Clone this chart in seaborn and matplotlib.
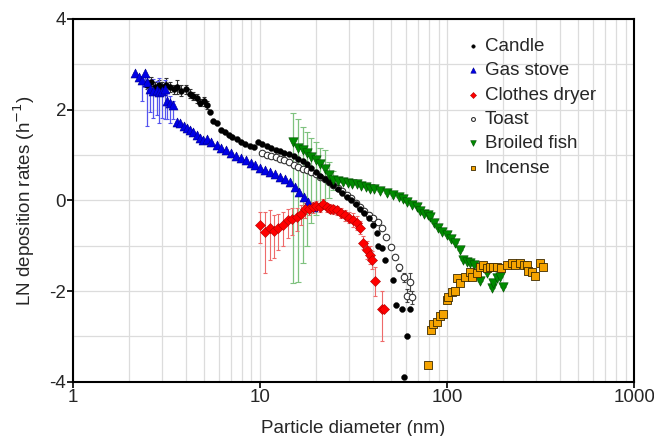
import numpy as np
import pandas as pd
import matplotlib
matplotlib.use("Agg")
import matplotlib.pyplot as plt
from matplotlib.ticker import FixedLocator, NullFormatter, LogLocator
import seaborn as sns

# ---- data: particle diameter (nm) and LN deposition rate (h^-1) ----
candle_x = [2.5, 2.6, 2.75, 2.9, 3.0, 3.15, 3.3, 3.45, 3.6, 3.8, 4.0, 4.2, 4.4, 4.6,
            4.8, 5.0, 5.2, 5.4, 5.6, 5.9, 6.2, 6.5, 6.8, 7.1, 7.5, 7.9, 8.3, 8.8,
            9.3, 9.8, 10.3, 10.9, 11.5, 12.1, 12.8, 13.5, 14.3, 15.1, 16.0, 16.9,
            17.8, 18.8, 19.9, 21.0, 22.2, 23.4, 24.7, 26.1, 27.6, 29.1, 30.7, 32.4,
            34.2, 36.1, 38.1, 40.2, 42.0, 42.5, 44.8, 46.5, 51.5, 53.5, 57.5, 59.0,
            61.0, 63.0]
candle_y = [2.55, 2.62, 2.5, 2.55, 2.5, 2.55, 2.5, 2.45, 2.5, 2.42, 2.45, 2.35, 2.3, 2.25,
            2.15, 2.18, 2.1, 1.95, 1.75, 1.7, 1.55, 1.5, 1.45, 1.4, 1.35, 1.28, 1.25, 1.2,
            1.18, 1.28, 1.25, 1.2, 1.15, 1.12, 1.08, 1.05, 1.02, 0.98, 0.92, 0.86,
            0.8, 0.72, 0.63, 0.54, 0.47, 0.4, 0.33, 0.24, 0.16, 0.08, 0.0, -0.08,
            -0.18, -0.28, -0.4, -0.55, -0.72, -1.0, -1.05, -1.32, -1.75, -2.3, -2.4, -3.9,
            -3.0, -2.4]
candle_err = [0.1, 0.1, 0.12, 0.1, 0.12, 0.15, 0.12, 0.1, 0.15, 0.12, 0.1, 0.1, 0.08, 0.1,
              0.08, 0.1, 0.08] + [0.0] * 49

gas_x = [2.14, 2.25, 2.35, 2.43, 2.5, 2.58, 2.68, 2.8, 2.9, 3.0, 3.1, 3.2, 3.3, 3.43,
         3.6, 3.75, 3.9, 4.05, 4.2, 4.4, 4.6, 4.8, 4.95, 5.2, 5.5, 5.9, 6.2, 6.6, 7.0,
         7.4, 7.9, 8.4, 8.9, 9.4, 10.0, 10.6, 11.3, 12.0, 12.8, 13.6, 14.5, 15.3,
         16.2, 17.1, 18.1, 19.2]
gas_y = [2.8, 2.72, 2.65, 2.8, 2.6, 2.45, 2.42, 2.43, 2.4, 2.42, 2.45, 2.2, 2.15, 2.1,
         1.72, 1.7, 1.65, 1.6, 1.55, 1.5, 1.45, 1.38, 1.32, 1.35, 1.28, 1.21, 1.15, 1.1,
         1.05, 0.98, 0.93, 0.88, 0.82, 0.78, 0.72, 0.68, 0.62, 0.58, 0.52, 0.46, 0.4,
         0.3, 0.18, 0.08, -0.03, -0.15]
gas_err_lo = [0.0, 0.0, 0.45, 0.3, 0.95, 0.5, 0.6, 0.55, 0.7, 0.6, 0.65, 0.4, 0.45, 0.3] + [0.0] * 32
gas_err_hi = [0.0, 0.0, 0.1, 0.0, 0.15, 0.2, 0.25, 0.2, 0.3, 0.15, 0.2, 0.2, 0.15, 0.1] + [0.0] * 32

dryer_x = [10.0, 10.6, 11.3, 11.9, 12.5, 13.3, 14.1, 14.9, 15.8, 16.6, 17.4, 18.3, 19.2,
           20.0, 20.9, 21.7, 22.7, 23.7, 24.7, 25.8, 27.0, 28.5, 30.0, 31.4, 32.8,
           34.2, 35.5, 37.3, 38.5, 39.7, 41.2, 44.8, 46.0]
dryer_y = [-0.55, -0.7, -0.62, -0.68, -0.6, -0.55, -0.44, -0.42, -0.37, -0.3, -0.2, -0.18,
           -0.15, -0.12, -0.15, -0.08, -0.15, -0.18, -0.2, -0.22, -0.28, -0.33, -0.38,
           -0.44, -0.5, -0.6, -0.93, -1.1, -1.2, -1.32, -1.77, -2.4, -2.4]
dryer_err_lo = [0.4, 0.9, 0.7, 0.6, 0.5, 0.45, 0.4, 0.35, 0.3, 0.25, 0.2, 0.15, 0.12,
                0.1, 0.1, 0.1, 0.1, 0.1, 0.1, 0.1, 0.12, 0.12, 0.12, 0.15, 0.15,
                0.15, 0.15, 0.2, 0.2, 0.2, 0.35, 0.7, 0.0]
dryer_err_hi = [0.3, 0.45, 0.4, 0.35, 0.3, 0.3, 0.25, 0.25, 0.2, 0.2, 0.15, 0.12, 0.12,
                0.1, 0.1, 0.1, 0.1, 0.1, 0.1, 0.1, 0.12, 0.12, 0.12, 0.15, 0.15,
                0.15, 0.15, 0.2, 0.2, 0.2, 0.3, 0.4, 0.0]

toast_x = [10.3, 10.9, 11.5, 12.1, 12.8, 13.5, 14.3, 15.1, 16.0, 16.9, 17.8, 18.8, 19.9,
           21.0, 22.2, 23.4, 24.7, 26.1, 27.6, 29.1, 30.7, 32.4, 34.2, 36.1, 38.1,
           40.2, 42.5, 44.8, 47.3, 49.9, 52.7, 55.6, 58.7, 63.0, 61.0, 65.0]
toast_y = [1.05, 1.0, 0.98, 0.95, 0.92, 0.88, 0.84, 0.78, 0.73, 0.7, 0.66, 0.62, 0.58,
           0.52, 0.46, 0.4, 0.34, 0.27, 0.2, 0.12, 0.05, -0.05, -0.14, -0.24, -0.32,
           -0.4, -0.47, -0.62, -0.8, -1.04, -1.26, -1.48, -1.7, -1.81, -2.1, -2.14]
toast_err = [0.0] * 31 + [0.08, 0.1, 0.2, 0.15, 0.15]

fish_x = [15.0, 16.0, 16.9, 17.8, 18.8, 19.9, 21.0, 22.2, 23.4, 24.6, 26.0, 27.8, 29.5,
          31.2, 33.0, 34.8, 36.7, 38.6, 40.8, 43.9, 47.6, 51.5, 55.0, 58.0, 61.0,
          65.0, 69.0, 71.5, 75.0, 79.0, 81.0, 85.0, 89.4, 94.0, 99.6, 105.0, 110.0,
          117.0, 122.0, 128.0, 133.0, 140.0, 150.0, 163.0, 174.0, 176.0, 184.0,
          192.0, 200.0]
fish_y = [1.28, 1.15, 1.12, 1.04, 0.95, 0.88, 0.8, 0.7, 0.55, 0.44, 0.42, 0.4, 0.38,
          0.37, 0.36, 0.32, 0.3, 0.26, 0.24, 0.2, 0.16, 0.11, 0.07, 0.03, -0.04,
          -0.1, -0.15, -0.24, -0.3, -0.33, -0.37, -0.5, -0.62, -0.7, -0.77, -0.86,
          -0.95, -1.1, -1.32, -1.36, -1.39, -1.42, -1.77, -1.61, -1.94, -1.83, -1.72,
          -1.7, -1.92]
fish_err_lo = [3.1, 2.95, 2.5, 2.05, 1.45, 1.2, 1.0, 0.85, 0.5, 0.22] + [0.0] * 39
fish_err_hi = [0.64, 0.65, 0.5, 0.46, 0.42, 0.4, 0.35, 0.4, 0.3, 0.2] + [0.0] * 39

incense_x = [79.0, 82.0, 84.0, 88.0, 91.6, 95.0, 99.6, 101.5, 106.0, 110.0, 113.0, 117.0,
             125.0, 133.0, 136.0, 144.0, 150.0, 156.0, 163.0, 170.0, 177.0, 184.0,
             195.0, 210.0, 222.0, 230.0, 245.0, 258.0, 267.0, 272.0, 283.0, 295.0,
             313.0, 325.0]
incense_y = [-3.64, -2.87, -2.72, -2.69, -2.54, -2.5, -2.2, -2.14, -2.03, -1.99, -1.72,
             -1.83, -1.7, -1.59, -1.7, -1.61, -1.48, -1.43, -1.5, -1.48, -1.47, -1.48,
             -1.5, -1.43, -1.39, -1.43, -1.39, -1.42, -1.43, -1.55, -1.59, -1.66,
             -1.39, -1.48]

# ---- styling per source ----
sns.set_theme(style="white")
plt.rcParams["font.family"] = ["Liberation Sans", "DejaVu Sans"]

fig = plt.figure(figsize=(6.54, 4.36), dpi=100)
ax = fig.add_axes([0.1116, 0.1245, 0.858, 0.832])

# error bars first so the markers sit on top
ax.errorbar(candle_x, candle_y, yerr=candle_err, fmt="none", ecolor="#333333",
            elinewidth=0.8, capsize=1.5, capthick=0.8, zorder=1)
ax.errorbar(gas_x, gas_y, yerr=[gas_err_lo, gas_err_hi], fmt="none", ecolor="#5555ee",
            elinewidth=0.9, capsize=1.5, capthick=0.8, zorder=1)
ax.errorbar(fish_x, fish_y, yerr=[fish_err_lo, fish_err_hi], fmt="none", ecolor="#7fc27f",
            elinewidth=0.9, capsize=2, capthick=0.8, zorder=1)
ax.errorbar(dryer_x, dryer_y, yerr=[dryer_err_lo, dryer_err_hi], fmt="none", ecolor="#ee6a6a",
            elinewidth=0.8, capsize=1.5, capthick=0.8, zorder=1)
ax.errorbar(toast_x, toast_y, yerr=toast_err, fmt="none", ecolor="#444444",
            elinewidth=0.8, capsize=1.5, capthick=0.8, zorder=1)

series = [
    ("Candle", candle_x, candle_y, dict(marker="o", s=18, color="black", edgecolor="black", linewidth=0.3), 3),
    ("Gas stove", gas_x, gas_y, dict(marker="^", s=42, color="#0000e6", edgecolor="#00008b", linewidth=0.4), 4),
    ("Clothes dryer", dryer_x, dryer_y, dict(marker="D", s=26, color="#ff0000", edgecolor="#b00000", linewidth=0.4), 5),
    ("Toast", toast_x, toast_y, dict(marker="o", s=22, color="white", edgecolor="#333333", linewidth=0.8), 2),
    ("Broiled fish", fish_x, fish_y, dict(marker="v", s=46, color="#008a00", edgecolor="#004d00", linewidth=0.4), 6),
    ("Incense", incense_x, incense_y, dict(marker="s", s=28, color="#f5a300", edgecolor="#3d2a00", linewidth=0.6), 7),
]
for label, xs, ys, style, z in series:
    df = pd.DataFrame({"d": xs, "rate": ys})
    sns.scatterplot(data=df, x="d", y="rate", ax=ax, label=label, zorder=z, **style)

ax.set_xscale("log")
ax.set_xlim(1, 1000)
ax.set_ylim(-4, 4)
ax.set_yticks([-4, -2, 0, 2, 4])
ax.yaxis.set_minor_locator(FixedLocator([-3, -1, 1, 3]))
ax.xaxis.set_minor_locator(LogLocator(base=10, subs=np.arange(2, 10)))
ax.xaxis.set_minor_formatter(NullFormatter())
ax.set_xticks([1, 10, 100, 1000])
ax.set_xticklabels(["1", "10", "100", "1000"])
ax.set_yticklabels(["-4", "-2", "0", "2", "4"])

ax.grid(True, which="both", color="#dcdcdc", linewidth=0.9)
ax.set_axisbelow(True)
ax.tick_params(axis="both", which="major", direction="out", length=4, width=1.2,
               color="black", labelsize=13.5, pad=1, bottom=True, left=True)
ax.tick_params(axis="both", which="minor", length=0)
for sp in ax.spines.values():
    sp.set_color("black")
    sp.set_linewidth(1.5)

ax.set_xlabel("Particle diameter (nm)", fontsize=13.5, labelpad=10)
ax.set_ylabel("LN deposition rates (h$^{-1}$)", fontsize=13.5, labelpad=9)

leg = ax.legend(loc="upper right", bbox_to_anchor=(0.955, 0.985), frameon=False,
                fontsize=13.5, markerscale=0.6, handletextpad=0.1, labelspacing=0.39,
                handlelength=1.0, borderaxespad=0.3)

fig.savefig("out.png", dpi=100)
